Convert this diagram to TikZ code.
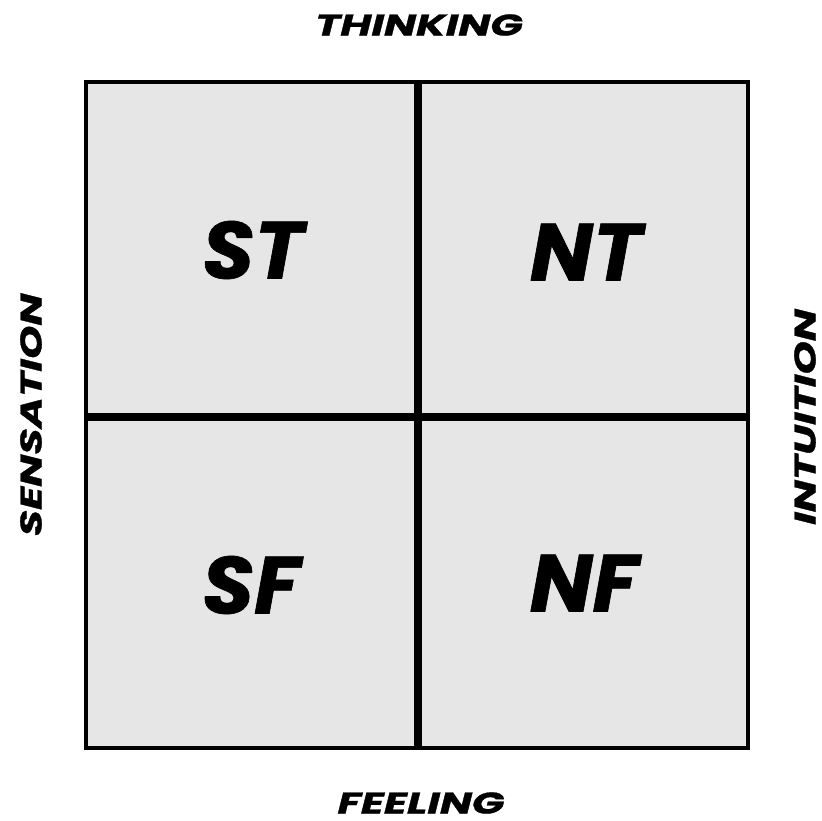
\documentclass[tikz,border=0pt]{standalone}
\usepackage{graphicx}
\usepackage{fontspec}
\newfontfamily\labfont{Poppins}[BoldItalicFeatures={FakeBold=0.8}]
\definecolor{cellgray}{HTML}{E6E6E6}
\newcommand{\wide}[1]{\scalebox{1.42}[1]{#1}}
\begin{document}
\begin{tikzpicture}[x=1pt,y=-1pt,
  axislabel/.style={font=\labfont\bfseries\itshape\fontsize{30}{30}\selectfont, inner sep=0pt},
  cell/.style={font=\labfont\bfseries\itshape\fontsize{81}{81}\selectfont, inner sep=0pt}]
\useasboundingbox (0,0) rectangle (822,820);
\fill[cellgray] (86,82) rectangle (748,748);
\draw[line width=8pt] (418,82) -- (418,748);
\draw[line width=8pt] (86,417) -- (748,417);
\draw[line width=4.5pt] (86,82) rectangle (748,748);
\node[cell] (st) at (253,250) {\scalebox{1.03}[1]{ST}};
\node[cell] (nt) at (586,252) {\scalebox{1.03}[1]{NT}};
\node[cell] (sf) at (251,585) {\scalebox{1.03}[1]{SF}};
\node[cell] (nf) at (584,583) {\scalebox{1.03}[1]{NF}};
\node[axislabel] (t) at (419,25) {\wide{THINKING}};
\node[axislabel] (f) at (421,803) {\wide{FEELING}};
\node[axislabel, rotate=90] (s) at (31,415) {\wide{SENSATION}};
\node[axislabel, rotate=90] (i) at (805,417) {\wide{INTUITION}};
\end{tikzpicture}
\end{document}
